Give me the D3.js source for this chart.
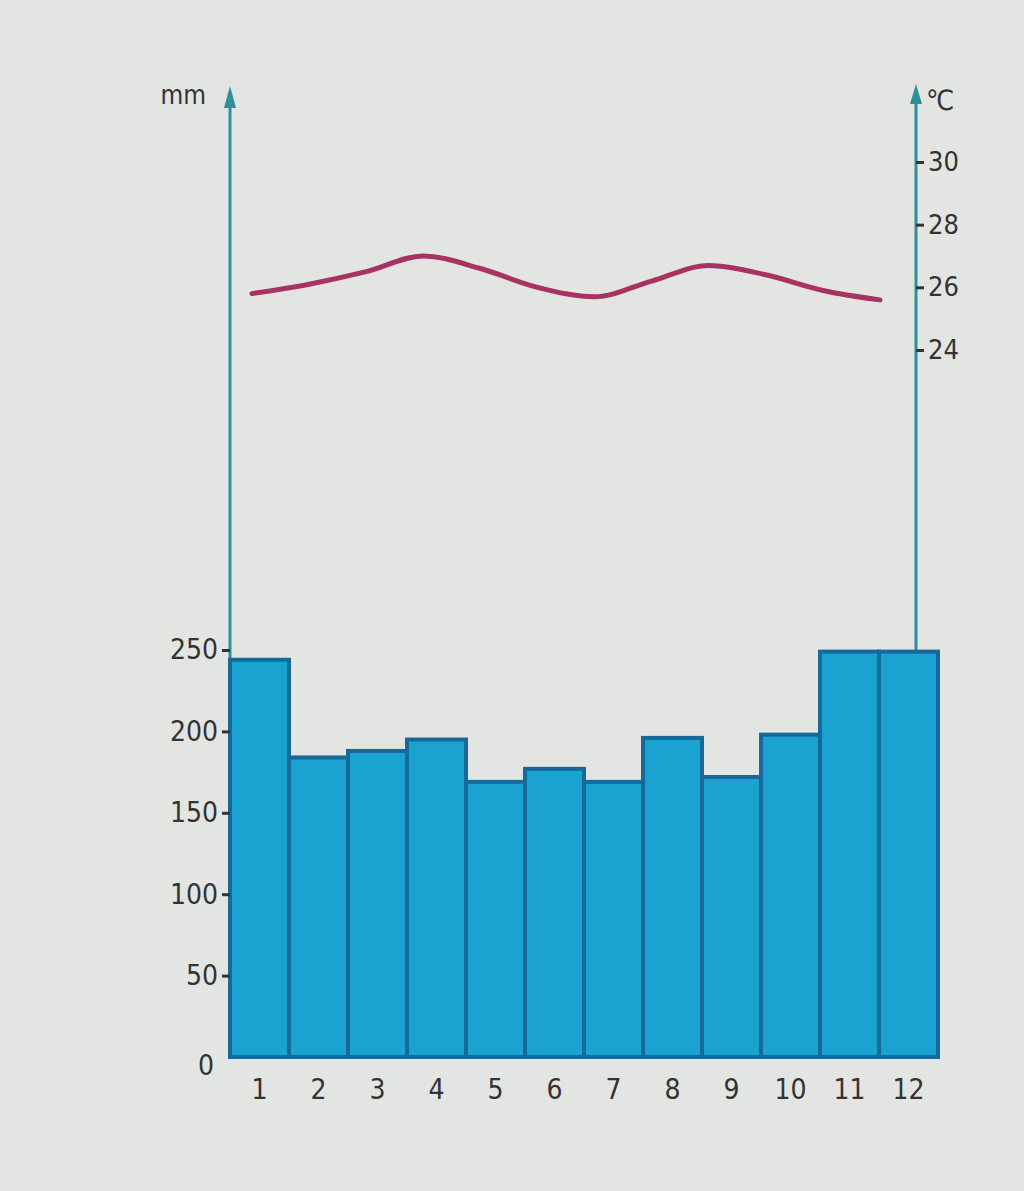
<!DOCTYPE html>
<html><head><meta charset="utf-8">
<script src="https://cdn.jsdelivr.net/npm/d3@7"></script>
<style>
html,body{margin:0;padding:0;background:#e3e5e2;}
svg{display:block;}
text{font-family:"Liberation Sans Narrow","DejaVu Sans Condensed","Liberation Sans",sans-serif;fill:#333;}
</style></head>
<body>
<svg id="chart" width="1024" height="1191"></svg>
<script>
const months = ["1","2","3","4","5","6","7","8","9","10","11","12"];
const precipitation = [244, 184, 188, 195, 169, 177, 169, 196, 172, 198, 249, 249];
const temperature = [25.8, 26.1, 26.5, 27.0, 26.6, 26.0, 25.7, 26.2, 26.7, 26.4, 25.9, 25.6];
const precipTicks = [50, 100, 150, 200, 250];
const tempTicks = [24, 26, 28, 30];

const svg = d3.select("#chart");
const baseY = 1057, leftX = 230, rightX = 916, barsRight = 938;

const x = d3.scaleBand().domain(months).range([leftX, barsRight]).padding(0);
const y = d3.scaleLinear().domain([0, 250]).range([baseY, 650]);
const xt = d3.scalePoint().domain(months).range([252, 880]);
const yt = d3.scaleLinear().domain([24, 30]).range([350, 162]);

// right axis line (behind bars)
svg.append("line").attr("x1", rightX).attr("x2", rightX).attr("y1", 92).attr("y2", baseY)
  .attr("stroke", "#2f8f9e").attr("stroke-width", 3);
svg.append("path").attr("d", `M${rightX-6},104 L${rightX},84 L${rightX+6},104 Z`).attr("fill", "#2f8f9e");

// left axis line
svg.append("line").attr("x1", leftX).attr("x2", leftX).attr("y1", 96).attr("y2", baseY)
  .attr("stroke", "#2f8f9e").attr("stroke-width", 3);
svg.append("path").attr("d", `M${leftX-6},108 L${leftX},86 L${leftX+6},108 Z`).attr("fill", "#2f8f9e");

// bars
svg.append("g").selectAll("rect").data(precipitation).join("rect")
  .attr("x", (d, i) => x(months[i]))
  .attr("y", d => y(d))
  .attr("width", x.bandwidth())
  .attr("height", d => baseY - y(d))
  .attr("fill", "#1aa2d0")
  .attr("stroke", "#17699a")
  .attr("stroke-width", 4);

// left axis ticks & labels
const leftAxis = d3.axisLeft(y).tickValues(precipTicks).tickSize(8).tickPadding(4).tickFormat(d3.format("d"));
const gl = svg.append("g").attr("transform", `translate(${leftX},0)`).call(leftAxis);
gl.select(".domain").remove();
gl.selectAll(".tick line").attr("stroke", "#333").attr("stroke-width", 3);
gl.selectAll(".tick text").attr("font-size", 28).attr("fill", "#333").attr("font-family", null);
svg.append("text").attr("x", 214).attr("y", 1075).attr("text-anchor", "end").attr("font-size", 28).text("0");
svg.append("text").attr("x", 206).attr("y", 104).attr("text-anchor", "end").attr("font-size", 26).text("mm");

// right axis ticks & labels
const rightAxis = d3.axisRight(yt).tickValues(tempTicks).tickSize(8).tickPadding(4).tickFormat(d3.format("d"));
const gr = svg.append("g").attr("transform", `translate(${rightX},0)`).call(rightAxis);
gr.select(".domain").remove();
gr.selectAll(".tick line").attr("stroke", "#333").attr("stroke-width", 3);
gr.selectAll(".tick text").attr("font-size", 27).attr("fill", "#333").attr("font-family", null);
svg.append("text").attr("x", 926).attr("y", 110).attr("font-size", 28).text("℃");

// x labels
const xAxis = d3.axisBottom(x).tickSize(0).tickPadding(22);
const gx = svg.append("g").attr("transform", `translate(0,${baseY})`).call(xAxis);
gx.select(".domain").remove();
gx.selectAll(".tick text").attr("font-size", 28).attr("fill", "#333").attr("font-family", null);

// temperature line
const line = d3.line().x((d, i) => xt(months[i])).y(d => yt(d)).curve(d3.curveMonotoneX);
svg.append("path").datum(temperature).attr("d", line)
  .attr("fill", "none").attr("stroke", "#a83264").attr("stroke-width", 5).attr("stroke-linecap", "round");
</script>
</body></html>
